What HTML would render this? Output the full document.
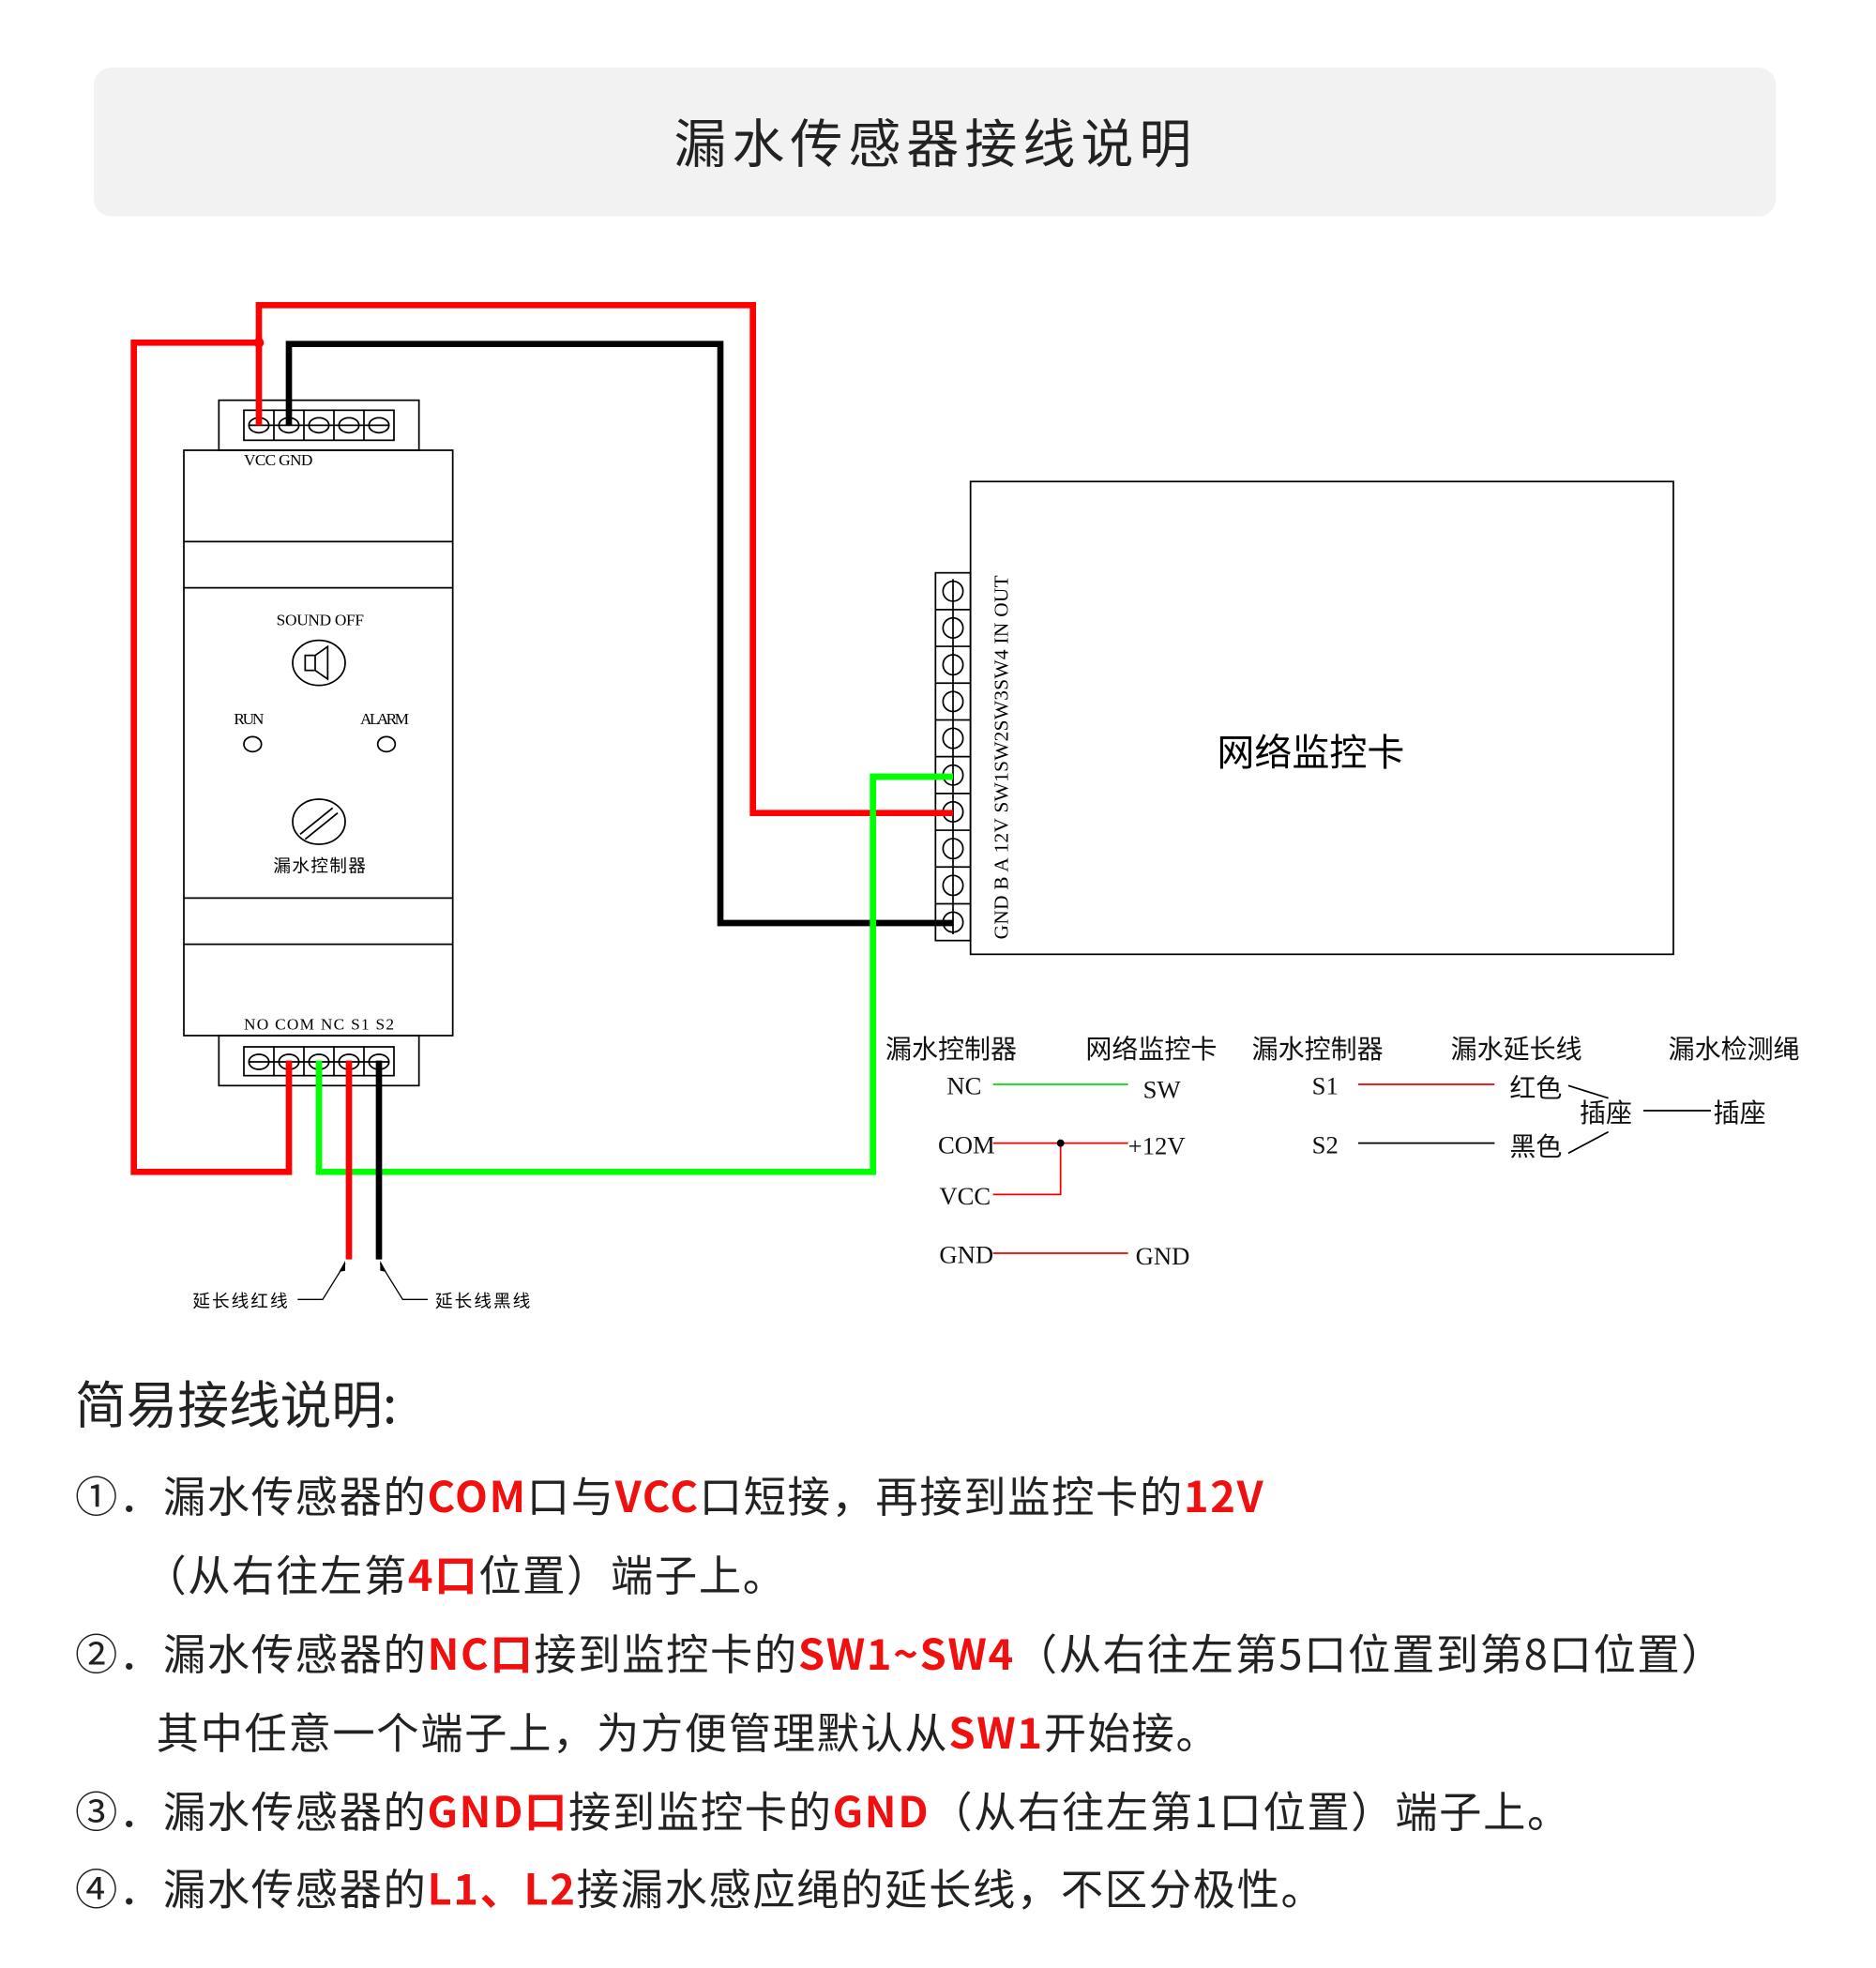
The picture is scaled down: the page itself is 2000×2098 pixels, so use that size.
<!DOCTYPE html>
<html><head><meta charset="utf-8"><style>
html,body{margin:0;padding:0;background:#fff}
svg{display:block}
.cjk{font-family:"Liberation Sans","Noto Sans CJK SC",sans-serif}
.ncjk{font-family:"Noto Sans CJK SC",sans-serif}
.ser{font-family:"Liberation Serif","Noto Serif CJK SC",serif}
</style></head><body>
<svg width="2000" height="2098" viewBox="0 0 1500 1573.5" xmlns="http://www.w3.org/2000/svg">
<rect x="75" y="54" width="1345" height="119" rx="14" fill="#f2f2f2"/>
<text x="748" y="130" text-anchor="middle" class="cjk" font-size="42" fill="#222" letter-spacing="4.5">漏水传感器接线说明</text>

<!-- controller -->
<g fill="none" stroke="#000" stroke-width="1.3">
<rect x="175" y="320" width="160" height="40"/>
<rect x="147" y="360" width="215" height="468"/>
<line x1="147" y1="433" x2="362" y2="433"/><line x1="147" y1="470" x2="362" y2="470"/>
<line x1="147" y1="718" x2="362" y2="718"/><line x1="147" y1="755" x2="362" y2="755"/>
<rect x="175" y="828" width="160" height="40"/>
<rect x="195" y="328" width="120" height="24"/>
<rect x="195" y="837" width="120" height="23"/>
<line x1="219" y1="328" x2="219" y2="352"/><line x1="243" y1="328" x2="243" y2="352"/><line x1="267" y1="328" x2="267" y2="352"/><line x1="291" y1="328" x2="291" y2="352"/>
<line x1="219" y1="837" x2="219" y2="860"/><line x1="243" y1="837" x2="243" y2="860"/><line x1="267" y1="837" x2="267" y2="860"/><line x1="291" y1="837" x2="291" y2="860"/>
<g>
<ellipse cx="207" cy="340" rx="8" ry="6"/><ellipse cx="231" cy="340" rx="8" ry="6"/><ellipse cx="255" cy="340" rx="8" ry="6"/><ellipse cx="279" cy="340" rx="8" ry="6"/><ellipse cx="303" cy="340" rx="8" ry="6"/>
<line x1="199" y1="340" x2="311" y2="340"/>
<ellipse cx="207" cy="849" rx="8" ry="6"/><ellipse cx="231" cy="849" rx="8" ry="6"/><ellipse cx="255" cy="849" rx="8" ry="6"/><ellipse cx="279" cy="849" rx="8" ry="6"/><ellipse cx="303" cy="849" rx="8" ry="6"/>
<line x1="199" y1="849" x2="311" y2="849"/>
</g>
<ellipse cx="255" cy="530" rx="21" ry="18"/>
<rect x="244" y="524" width="8" height="12"/><path d="M252 524 L262 517 L262 543 L252 536"/>
<ellipse cx="202" cy="595" rx="7" ry="6"/><ellipse cx="309" cy="595" rx="7" ry="6"/>
<ellipse cx="255" cy="657" rx="21" ry="18"/>
<line x1="240" y1="667" x2="266" y2="646"/><line x1="244" y1="671" x2="270" y2="650"/>
</g>
<g class="ser" font-size="13" fill="#000">
<text x="195" y="372" textLength="55" lengthAdjust="spacing">VCC  GND</text>
<text x="221" y="500" textLength="70" lengthAdjust="spacing">SOUND OFF</text>
<text x="187" y="579" textLength="24">RUN</text><text x="288" y="579" textLength="39">ALARM</text>
<text x="195" y="823" textLength="120" lengthAdjust="spacing">NO  COM  NC  S1  S2</text>
</g>
<text x="256" y="697" text-anchor="middle" class="cjk" font-size="14" letter-spacing="1">漏水控制器</text>

<!-- card -->
<g fill="none" stroke="#000" stroke-width="1.3">
<rect x="776" y="385" width="562" height="378"/>
<rect x="748" y="458" width="28" height="294"/>
</g>
<g stroke="#000" stroke-width="1.3" fill="none">
<line x1="748" y1="487.4" x2="776" y2="487.4"/><line x1="748" y1="516.8" x2="776" y2="516.8"/><line x1="748" y1="546.2" x2="776" y2="546.2"/><line x1="748" y1="575.6" x2="776" y2="575.6"/><line x1="748" y1="605" x2="776" y2="605"/><line x1="748" y1="634.4" x2="776" y2="634.4"/><line x1="748" y1="663.8" x2="776" y2="663.8"/><line x1="748" y1="693.2" x2="776" y2="693.2"/><line x1="748" y1="722.6" x2="776" y2="722.6"/>
<circle cx="762" cy="472.7" r="8"/><circle cx="762" cy="502.1" r="8"/><circle cx="762" cy="531.5" r="8"/><circle cx="762" cy="560.9" r="8"/><circle cx="762" cy="590.3" r="8"/><circle cx="762" cy="619.7" r="8"/><circle cx="762" cy="649.1" r="8"/><circle cx="762" cy="678.5" r="8"/><circle cx="762" cy="707.9" r="8"/><circle cx="762" cy="737.3" r="8"/>
<line x1="762" y1="463" x2="762" y2="747"/>
</g>
<text transform="translate(806,751) rotate(-90)" class="ser" font-size="16" fill="#000" textLength="291" lengthAdjust="spacing">GND  B   A  12V SW1SW2SW3SW4 IN  OUT</text>
<text x="1048" y="612" text-anchor="middle" class="cjk" font-size="30" fill="#000">网络监控卡</text>

<!-- wires -->
<g fill="none" stroke-width="5" stroke-linejoin="miter">
<path d="M207 340 V244 H602 V650 H762" stroke="#f00"/>
<path d="M207 274 H107 V937 H231 V848" stroke="#f00"/>
<path d="M231 340 V275 H576 V738 H762" stroke="#000"/>
<path d="M255 848 V937 H698 V621 H762" stroke="#0f0"/>
<path d="M279 848 V1007" stroke="#f00"/>
<path d="M303 848 V1007" stroke="#000"/>
</g>
<circle cx="207" cy="274" r="4" fill="#f00"/>
<g stroke="#000" stroke-width="1" fill="none">
<path d="M238 1039 H258 L276 1010"/><path d="M342 1039 H322 L304 1010"/>
</g>
<path d="M276 1008 L271 1017 L276 1016Z M304 1008 L309 1017 L304 1016Z" fill="#000"/>
<text x="154" y="1045" class="cjk" font-size="14" letter-spacing="1.5">延长线红线</text>
<text x="348" y="1045" class="cjk" font-size="14" letter-spacing="1.5">延长线黑线</text>

<!-- legend -->
<g class="cjk" font-size="21" fill="#111">
<text x="708" y="846">漏水控制器</text><text x="868" y="846">网络监控卡</text><text x="1001" y="846">漏水控制器</text>
<text x="1160" y="846">漏水延长线</text><text x="1334" y="846">漏水检测绳</text>
<text x="1207" y="877">红色</text><text x="1207" y="924">黑色</text>
<text x="1263" y="897">插座</text><text x="1370" y="897">插座</text>
</g>
<g class="ser" font-size="20" fill="#111">
<text x="757" y="875">NC</text><text x="914" y="878">SW</text>
<text x="750" y="922">COM</text><text x="902" y="923">+12V</text>
<text x="751" y="963">VCC</text>
<text x="751" y="1010">GND</text><text x="908" y="1011">GND</text>
<text x="1049" y="875">S1</text><text x="1049" y="922">S2</text>
</g>
<g fill="none" stroke-width="1.3">
<line x1="794" y1="867" x2="902" y2="867" stroke="#0d0"/>
<line x1="794" y1="914" x2="902" y2="914" stroke="#e00"/>
<path d="M794 955 H848 V914" stroke="#e00"/>
<line x1="794" y1="1002" x2="902" y2="1002" stroke="#e00"/>
<line x1="1086" y1="867" x2="1195" y2="867" stroke="#e00"/>
<line x1="1086" y1="914" x2="1195" y2="914" stroke="#000"/>
<line x1="1254" y1="868" x2="1286" y2="878" stroke="#000"/>
<line x1="1254" y1="922" x2="1286" y2="905" stroke="#000"/>
<line x1="1314" y1="888" x2="1368" y2="888" stroke="#000"/>
</g>
<circle cx="848" cy="914" r="3" fill="#000"/>

<!-- instructions -->
<g class="ncjk" fill="#222">
<text x="60" y="1138" font-size="41">简易接线说明:</text>
<g font-size="34" letter-spacing="1.2">
<text x="60" y="1209">①．漏水传感器的<tspan fill="#f01010" font-weight="bold">COM</tspan>口与<tspan fill="#f01010" font-weight="bold">VCC</tspan>口短接，再接到监控卡的<tspan fill="#f01010" font-weight="bold">12V</tspan></text>
<text x="115" y="1272">（从右往左第<tspan fill="#f01010" font-weight="bold">4口</tspan>位置）端子上。</text>
<text x="60" y="1335">②．漏水传感器的<tspan fill="#f01010" font-weight="bold">NC口</tspan>接到监控卡的<tspan fill="#f01010" font-weight="bold">SW1~SW4</tspan>（从右往左第5口位置到第8口位置）</text>
<text x="125" y="1398">其中任意一个端子上，为方便管理默认从<tspan fill="#f01010" font-weight="bold">SW1</tspan>开始接。</text>
<text x="60" y="1461">③．漏水传感器的<tspan fill="#f01010" font-weight="bold">GND口</tspan>接到监控卡的<tspan fill="#f01010" font-weight="bold">GND</tspan>（从右往左第1口位置）端子上。</text>
<text x="60" y="1523">④．漏水传感器的<tspan fill="#f01010" font-weight="bold">L1、L2</tspan>接漏水感应绳的延长线，不区分极性。</text>
</g>
</g>
</svg>
</body></html>
